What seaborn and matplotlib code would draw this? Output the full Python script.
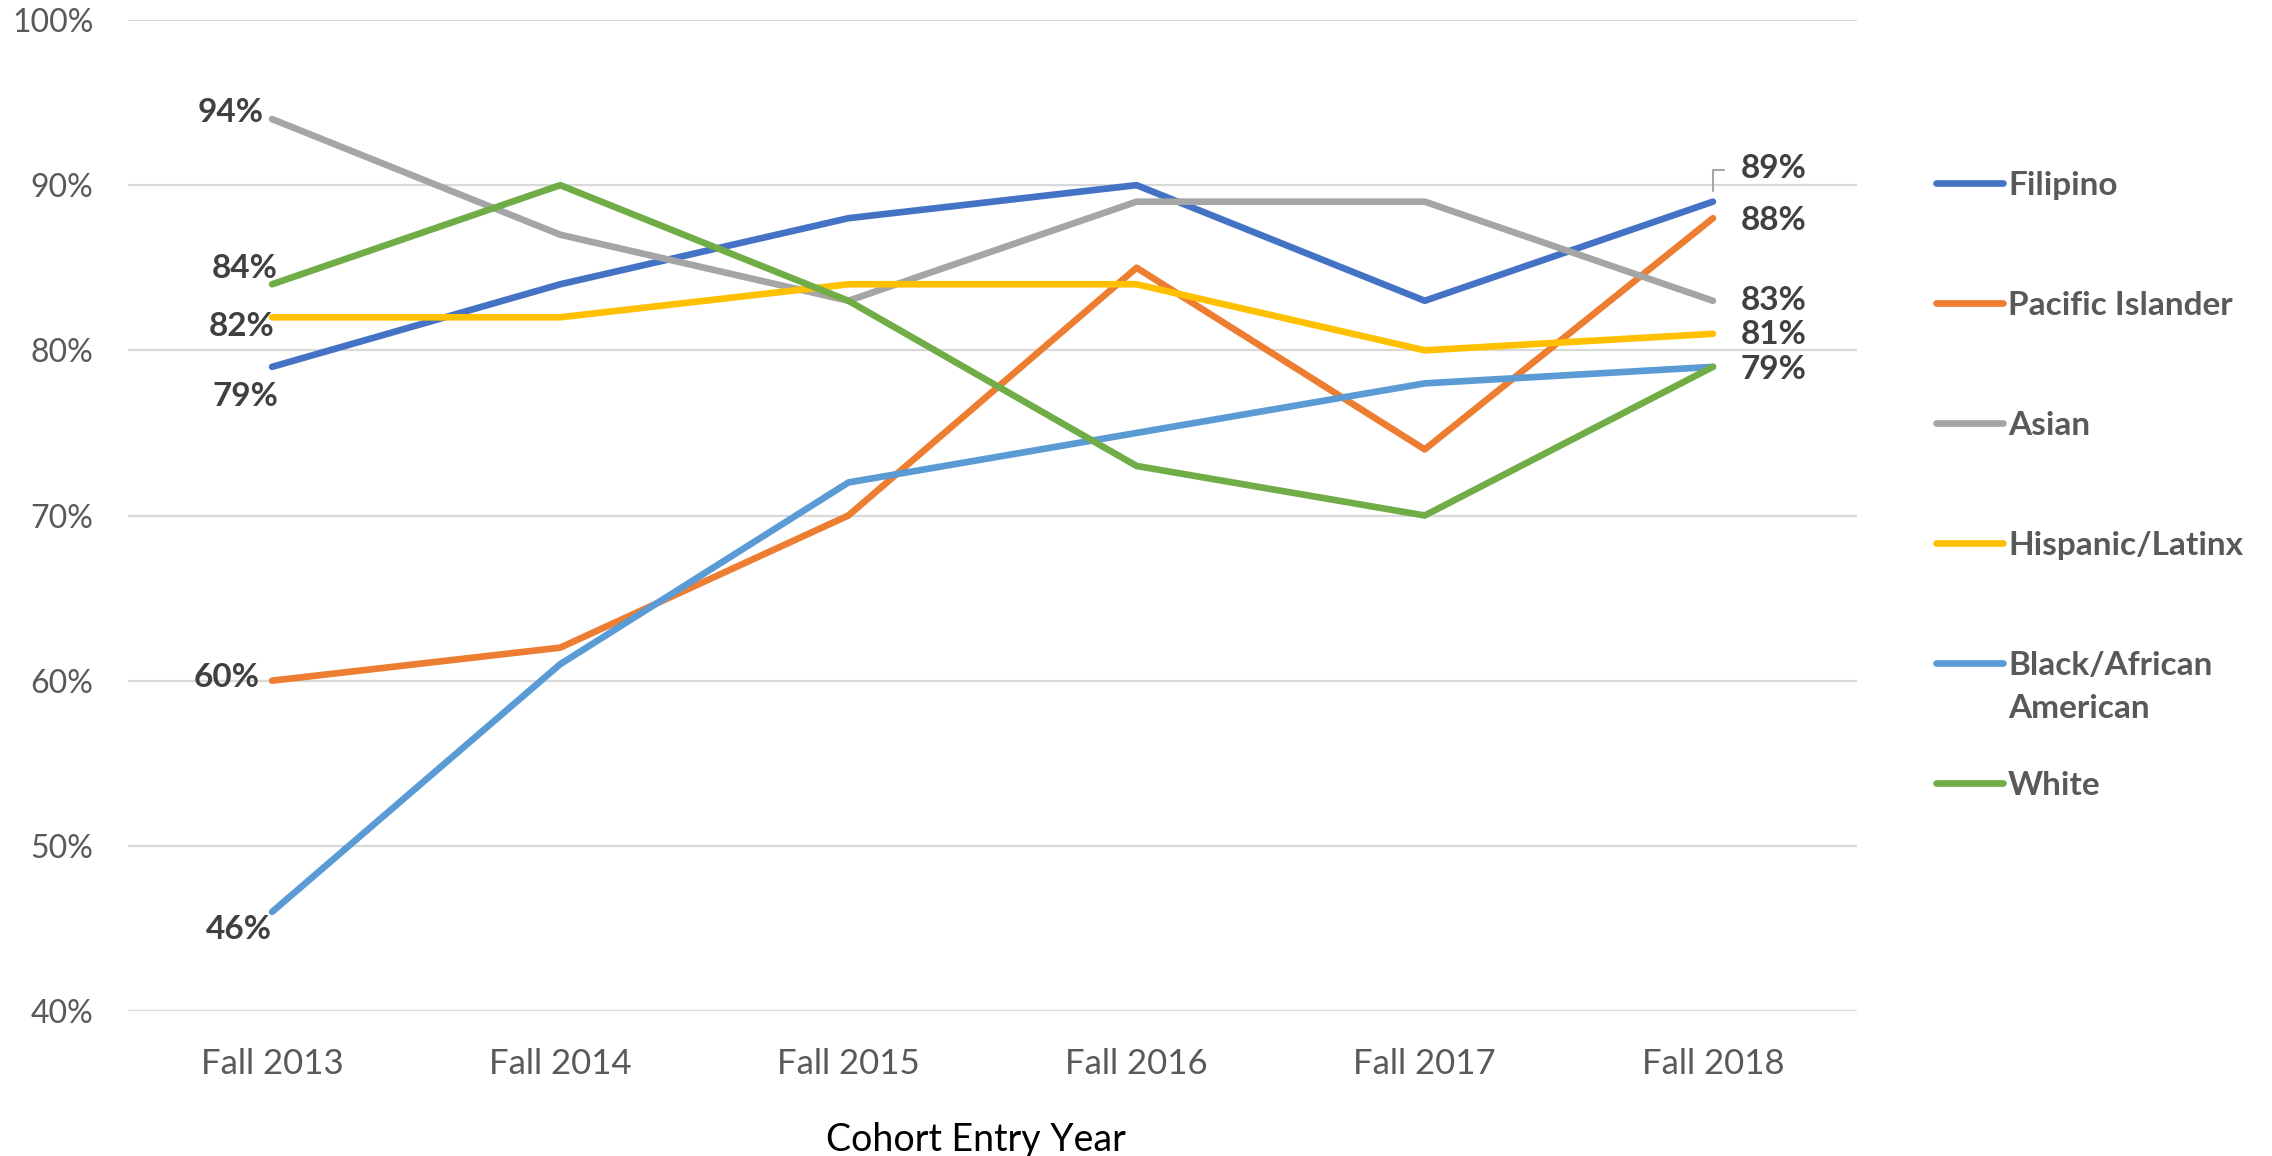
import matplotlib
matplotlib.use("Agg")
import matplotlib.pyplot as plt
from matplotlib.lines import Line2D
from matplotlib.ticker import PercentFormatter
import pandas as pd
import seaborn as sns

# data
cohorts = ["Fall 2013", "Fall 2014", "Fall 2015", "Fall 2016", "Fall 2017", "Fall 2018"]
groups = ["Filipino", "Pacific Islander", "Asian", "Hispanic/Latinx",
          "Black/African American", "White"]
filipino = [79, 84, 88, 90, 83, 89]
pacific_islander = [60, 62, 70, 85, 74, 88]
asian = [94, 87, 83, 89, 89, 83]
hispanic = [82, 82, 84, 84, 80, 81]
black = [46, 61, 72, 75, 78, 79]
white = [84, 90, 83, 73, 70, 79]
series = [filipino, pacific_islander, asian, hispanic, black, white]

legend_labels = ["Filipino", "Pacific Islander", "Asian", "Hispanic/Latinx",
                 "Black/African\nAmerican", "White"]
colors = ["#4472C4", "#ED7D31", "#A5A5A5", "#FFC000", "#5B9BD5", "#70AD47"]

rows = []
for g, vals in zip(groups, series):
    for c, v in zip(cohorts, vals):
        rows.append({"cohort": c, "group": g, "rate": v})
df = pd.DataFrame(rows)

sns.set_theme(style="white")
plt.rcParams["font.family"] = ["Lato", "DejaVu Sans"]

W, H = 2272, 1156
fig = plt.figure(figsize=(W / 100, H / 100), dpi=100)
ax = fig.add_axes([128 / W, 1 - 1011 / H, (1857 - 128) / W, (1011 - 20) / H])

sns.lineplot(data=df, x="cohort", y="rate", hue="group", hue_order=groups,
             palette=dict(zip(groups, colors)), linewidth=4.8, sort=False,
             legend=False, ax=ax, solid_capstyle="round")

ax.set_xlim(-0.5, len(cohorts) - 0.5)
ax.set_ylim(40, 100)
ax.set_yticks(range(40, 101, 10))
ax.yaxis.set_major_formatter(PercentFormatter(decimals=0))
ax.yaxis.grid(True, color="#D9D9D9", linewidth=1.6)
ax.xaxis.grid(False)
ax.set_axisbelow(True)
for s in ax.spines.values():
    s.set_visible(False)
ax.tick_params(axis="both", length=0, labelcolor="#595959")
ax.tick_params(axis="y", pad=25, labelsize=23)
ax.tick_params(axis="x", pad=27, labelsize=25)
ax.set_ylabel("")
ax.set_xlabel("Cohort Entry Year", fontsize=27, color="black")
ax.xaxis.set_label_coords(0.4907, -0.112)

# data labels at both ends (offsets in pixels)
left_offsets = {"Filipino": (6, -30), "Pacific Islander": (-12, 3), "Asian": (-8, 7),
                "Hispanic/Latinx": (2, -9), "Black/African American": (0, -18),
                "White": (6, 16)}
right_offsets = {"Filipino": (28, 33), "Pacific Islander": (28, -2), "Asian": (28, 0),
                 "Hispanic/Latinx": (28, -1), "White": (28, -3)}
lab_kw = dict(textcoords="offset pixels", fontsize=24, fontweight="bold",
              color="#404040", va="center")

for g, vals in zip(groups, series):
    ax.annotate(f"{vals[0]}%", xy=(cohorts[0], vals[0]), xytext=left_offsets[g],
                ha="right", **lab_kw)
    if g in right_offsets:
        arrow = None
        if g == "Filipino":
            arrow = dict(arrowstyle="-", color="#A6A6A6", lw=1.5, relpos=(0, 0.45),
                         connectionstyle="angle,angleA=0,angleB=90,rad=0",
                         shrinkA=10, shrinkB=8)
        ax.annotate(f"{vals[-1]}%", xy=(cohorts[-1], vals[-1]),
                    xytext=right_offsets[g], ha="left", arrowprops=arrow, **lab_kw)

# legend on the right, one entry every 120 px, wrapped lines 43 px apart
for i, (lab, col) in enumerate(zip(legend_labels, colors)):
    y = 1 - (183 + 120 * i) / H
    fig.add_artist(Line2D([1936 / W, 2003 / W], [y, y], transform=fig.transFigure,
                          color=col, linewidth=4.8, solid_capstyle="round"))
    for j, part in enumerate(lab.split("\n")):
        fig.text(2008 / W, y - (12 + 43 * j) / H, part, fontsize=24, fontweight="bold",
                 color="#595959", ha="left", va="baseline")

fig.savefig("out.png", dpi=100)
